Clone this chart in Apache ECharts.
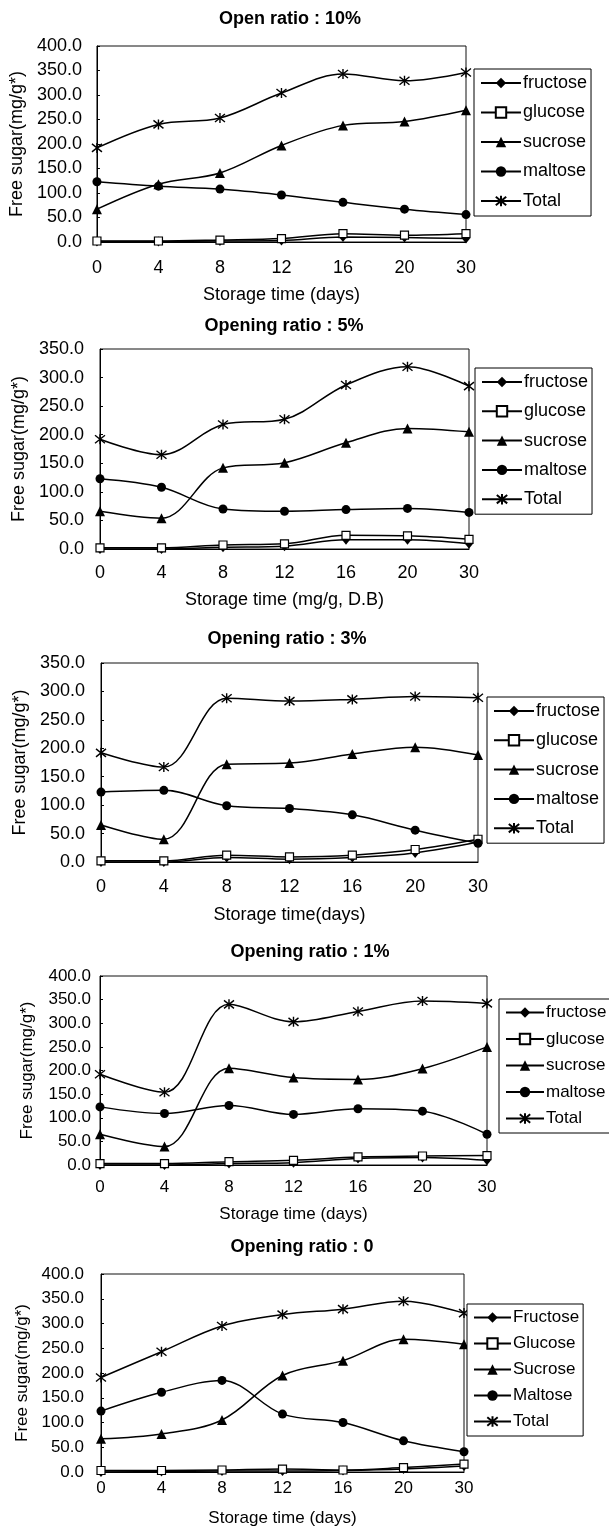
<!DOCTYPE html>
<html>
<head>
<meta charset="utf-8">
<title>Free sugar vs storage time</title>
<script src="https://cdn.jsdelivr.net/npm/echarts@6/dist/echarts.min.js"></script>
<style>
  html, body { margin: 0; padding: 0; background: #fff; }
  #chart { width: 609px; height: 1528px; }
</style>
</head>
<body>
<div id="chart"></div>
<script>
// storage days (category axis)
const days = ['0', '4', '8', '12', '16', '20', '30'];

const titles = ['Open ratio : 10%', 'Opening ratio : 5%', 'Opening ratio : 3%', 'Opening ratio : 1%', 'Opening ratio : 0'];
const xNames = ['Storage time (days)', 'Storage time (mg/g, D.B)', 'Storage time(days)', 'Storage time (days)', 'Storage time (days)'];
const yMax = [400, 350, 350, 400, 400];
const sugarNames = ['fructose', 'glucose', 'sucrose', 'maltose', 'Total'];
const sugarNamesCap = ['Fructose', 'Glucose', 'Sucrose', 'Maltose', 'Total'];

// opening ratio 10%
const fructose10 = [1, 1, 2, 3, 10, 9, 7];
const glucose10 = [2, 2, 4, 7, 17, 14, 17];
const sucrose10 = [67, 118, 141, 197, 238, 246, 269];
const maltose10 = [123, 114, 108, 96, 81, 67, 56];
const total10 = [192, 240, 253, 304, 343, 329, 346];

// opening ratio 5%
const fructose5 = [0, 0, 3, 5, 16, 16, 9];
const glucose5 = [2, 2, 7, 9, 24, 23, 17];
const sucrose5 = [66, 54, 142, 151, 186, 211, 205];
const maltose5 = [123, 108, 70, 66, 69, 71, 64];
const total5 = [192, 165, 218, 227, 287, 319, 285];

// opening ratio 3%
const fructose3 = [0, 0, 8, 5, 8, 16, 35];
const glucose3 = [2, 2, 12, 9, 12, 22, 40];
const sucrose3 = [65, 40, 172, 174, 190, 202, 188];
const maltose3 = [123, 126, 99, 94, 83, 56, 33];
const total3 = [192, 167, 288, 283, 286, 291, 289];

// opening ratio 1%
const fructose1 = [0, 0, 3, 5, 14, 16, 10];
const glucose1 = [3, 3, 7, 10, 17, 19, 20];
const sucrose1 = [65, 39, 205, 185, 181, 204, 250];
const maltose1 = [123, 109, 126, 107, 119, 114, 65];
const total1 = [192, 154, 340, 303, 325, 347, 342];

// opening ratio 0
const fructose0 = [0, 1, 2, 2, 3, 6, 12];
const glucose0 = [3, 3, 4, 6, 4, 9, 16];
const sucrose0 = [67, 77, 105, 195, 225, 268, 258];
const maltose0 = [123, 161, 185, 117, 100, 63, 41];
const total0 = [191, 243, 295, 318, 329, 345, 321];

const panels = [
    [fructose10, glucose10, sucrose10, maltose10, total10],
    [fructose5, glucose5, sucrose5, maltose5, total5],
    [fructose3, glucose3, sucrose3, maltose3, total3],
    [fructose1, glucose1, sucrose1, maltose1, total1],
    [fructose0, glucose0, sucrose0, maltose0, total0]
];

// layout of each panel (px)
const layout = [
    { grid: [96, 46, 370, 196], title: [290, 20], legend: [474, 69], gap: 11.5, iw: 40, fs: 18, lm: 17, ng: 44, ylm: 15, yng: 66 },
    { grid: [100, 349, 369, 200], title: [284, 327], legend: [475, 368], gap: 11.3, iw: 40, fs: 18, lm: 15, ng: 42, ylm: 16, yng: 66 },
    { grid: [101, 663, 377, 199], title: [287, 640], legend: [487, 697], gap: 11.3, iw: 40, fs: 18, lm: 16, ng: 44, ylm: 16, yng: 66 },
    { grid: [100, 976, 387, 189], title: [310, 953], legend: [499, 999], gap: 9.5, iw: 38, fs: 17, lm: 14, ng: 41, ylm: 9, yng: 64 },
    { grid: [101, 1274, 363, 200], title: [302, 1248], legend: [467, 1304], gap: 9, iw: 37, fs: 17, lm: 8, ng: 38, ylm: 17, yng: 66 }
];

const FONT = '"Liberation Sans", Arial, sans-serif';
const ASTERISK = 'path://M5,0L5,10M1,1L9,9M1,9L9,1';

// marker style per sugar
const markers = [
    { symbol: 'diamond', size: [8, 10], itemStyle: { color: '#000' } },
    { symbol: 'rect', size: 8, itemStyle: { color: '#fff', borderColor: '#000', borderWidth: 1.2 } },
    { symbol: 'triangle', size: 10, itemStyle: { color: '#000' } },
    { symbol: 'circle', size: 9, itemStyle: { color: '#000' } },
    { symbol: ASTERISK, size: 10, itemStyle: { color: '#000', borderColor: '#000', borderWidth: 1.4 } }
];

const option = {
    animation: false,
    backgroundColor: '#fff',
    textStyle: { fontFamily: FONT, color: '#000' },
    title: [],
    legend: [],
    grid: [],
    xAxis: [],
    yAxis: [],
    series: []
};

layout.forEach(function (L, i) {
    const names = i === 4 ? sugarNamesCap : sugarNames;

    option.title.push({
        text: titles[i],
        left: L.title[0],
        top: L.title[1] - 10,
        textAlign: 'center',
        padding: 0,
        textStyle: { fontFamily: FONT, fontSize: 18, fontWeight: 'bold', color: '#000' }
    });

    option.grid.push({
        left: L.grid[0], top: L.grid[1], width: L.grid[2], height: L.grid[3],
        show: true, borderColor: '#111', borderWidth: 1, backgroundColor: 'transparent'
    });

    option.xAxis.push({
        type: 'category',
        gridIndex: i,
        data: days,
        boundaryGap: false,
        name: xNames[i],
        nameLocation: 'middle',
        nameGap: L.ng,
        nameTextStyle: { fontFamily: FONT, fontSize: L.fs, color: '#000' },
        axisLine: { lineStyle: { color: '#000', width: 1 } },
        axisTick: { show: false },
        axisLabel: { margin: L.lm, fontFamily: FONT, fontSize: L.fs, color: '#000' },
        splitLine: { show: false }
    });

    option.yAxis.push({
        type: 'value',
        gridIndex: i,
        min: 0,
        max: yMax[i],
        interval: 50,
        name: 'Free sugar(mg/g*)',
        nameLocation: 'middle',
        nameGap: L.yng,
        nameTextStyle: { fontFamily: FONT, fontSize: L.fs, color: '#000' },
        axisLine: { show: true, lineStyle: { color: '#000', width: 1 } },
        axisTick: { show: true, inside: true, length: 3, lineStyle: { color: '#000' } },
        axisLabel: {
            margin: L.ylm, fontFamily: FONT, fontSize: L.fs, color: '#000',
            formatter: function (v) { return v.toFixed(1); }
        },
        splitLine: { show: false }
    });

    option.legend.push({
        orient: 'vertical',
        left: L.legend[0],
        top: L.legend[1],
        data: names,
        itemWidth: L.iw,
        itemHeight: 13,
        itemGap: L.gap,
        padding: [5, 4, 6, 6],
        borderColor: '#000',
        borderWidth: 1,
        borderRadius: 0,
        backgroundColor: '#fff',
        textStyle: { fontFamily: FONT, fontSize: L.fs, color: '#000', padding: [0, 0, 0, -3] }
    });

    panels[i].forEach(function (vals, k) {
        const m = markers[k];
        option.series.push({
            name: names[k],
            type: 'line',
            xAxisIndex: i,
            yAxisIndex: i,
            data: vals,
            smooth: 0.35,
            symbol: m.symbol,
            symbolSize: m.size,
            showAllSymbol: true,
            lineStyle: { color: '#000', width: 1.5 },
            itemStyle: m.itemStyle,
            emphasis: { disabled: true }
        });
    });
});

const chart = echarts.init(document.getElementById('chart'), null, { renderer: 'canvas' });
chart.setOption(option);
</script>
</body>
</html>
